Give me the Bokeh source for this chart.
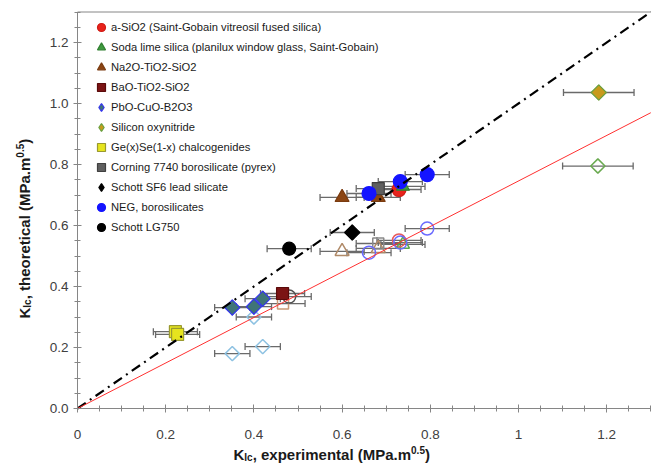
import math
from bokeh.plotting import figure
from bokeh.models import (Range1d, FixedTicker, CustomJSTickFormatter, PrintfTickFormatter,
                          Whisker, TeeHead, ColumnDataSource, Label, Legend, LegendItem)
from bokeh.embed import file_html
from bokeh.resources import INLINE

# ---------------- data ----------------
x_ticks = [0.0, 0.2, 0.4, 0.6, 0.8, 1.0, 1.2]
y_ticks = [0.0, 0.2, 0.4, 0.6, 0.8, 1.0, 1.2]
axis_max = 1.3
ref_line_x = [0.0, 1.3]          # 1:1 line
fit_slope = 0.746                # red fit line slope

# filled markers (experimental vs theoretical)
asio2_x = [0.729]; asio2_y = [0.718]; asio2_err = [0.05]
soda_x = [0.738]; soda_y = [0.728]; soda_err = [0.05]
na2o_x = [0.600, 0.682]; na2o_y = [0.692, 0.692]; na2o_err = [0.05, 0.05]
bao_x = [0.465]; bao_y = [0.377]; bao_err = [0.05]
pbo_x = [0.351, 0.400, 0.420]; pbo_y = [0.331, 0.334, 0.360]; pbo_err = [0.04, 0.04, 0.04]
sion_x = [1.182]; sion_y = [1.036]; sion_err = [0.08]
gese_x = [0.222, 0.227]; gese_y = [0.252, 0.243]; gese_err = [0.05, 0.05]
corning_x = [0.682]; corning_y = [0.721]; corning_err = [0.05]
sf6_x = [0.623]; sf6_y = [0.577]; sf6_err = [0.05]
neg_x = [0.661, 0.732, 0.793]; neg_y = [0.705, 0.744, 0.767]; neg_err = [0.05, 0.05, 0.05]
lg750_x = [0.480]; lg750_y = [0.524]; lg750_err = [0.05]

# hollow markers (second model)
asio2_hx = [0.729]; asio2_hy = [0.551]; asio2_herr = [0.05]
soda_hx = [0.738]; soda_hy = [0.538]; soda_herr = [0.05]
na2o_hx = [0.600, 0.682]; na2o_hy = [0.515, 0.525]; na2o_herr = [0.05, 0.05]
bao_hx = [0.466]; bao_hy = [0.344]; bao_herr = [0.05]
pbo_hx = [0.351, 0.400, 0.420]; pbo_hy = [0.180, 0.300, 0.203]; pbo_herr = [0.04, 0.04, 0.04]
sion_hx = [1.180]; sion_hy = [0.795]; sion_herr = [0.08]
corning_hx = [0.682]; corning_hy = [0.541]; corning_herr = [0.05]
neg_hx = [0.661, 0.732, 0.793]; neg_hy = [0.511, 0.544, 0.590]; neg_herr = [0.05, 0.05, 0.05]
lg750_hx = [0.480]; lg750_hy = [0.367]; lg750_herr = [0.05]

labels = ["a-SiO2 (Saint-Gobain vitreosil fused silica)",
          "Soda lime silica (planilux window glass, Saint-Gobain)",
          "Na2O-TiO2-SiO2", "BaO-TiO2-SiO2", "PbO-CuO-B2O3", "Silicon oxynitride",
          "Ge(x)Se(1-x) chalcogenides", "Corning 7740 borosilicate (pyrex)",
          "Schott SF6 lead silicate", "NEG, borosilicates", "Schott LG750"]

FONT = "Liberation Sans"
GRAY = "#868686"

W, H = 651, 463
ORIG_X, ORIG_Y = 77, 408          # pixel position of (0, 0)
PX_X, PX_Y = 441.0, 305.0         # pixels per unit

p = figure(width=W, height=H,
           x_range=Range1d(-ORIG_X / PX_X, (W - ORIG_X) / PX_X),
           y_range=Range1d(-(H - ORIG_Y) / PX_Y, ORIG_Y / PX_Y),
           output_backend="svg", toolbar_location=None,
           min_border_left=0, min_border_right=0, min_border_top=0, min_border_bottom=0)
p.grid.visible = False
p.outline_line_color = None
p.background_fill_color = "white"
p.border_fill_color = "white"

for ax in (p.xaxis[0], p.yaxis[0]):
    ax.fixed_location = 0
    ax.bounds = (0, axis_max)
    ax.axis_line_color = GRAY
    ax.major_tick_line_color = GRAY
    ax.minor_tick_line_color = GRAY
    ax.major_tick_in = 4
    ax.major_tick_out = 4
    ax.minor_tick_in = 3
    ax.minor_tick_out = 3
    ax.major_label_text_font = FONT
    ax.major_label_text_font_size = "13.5px"
    ax.major_label_text_color = "#404040"

minor = [i * 0.05 for i in range(27)]
p.xaxis.ticker = FixedTicker(ticks=x_ticks, minor_ticks=minor)
p.yaxis.ticker = FixedTicker(ticks=y_ticks, minor_ticks=minor)
p.xaxis.formatter = CustomJSTickFormatter(code="return tick.toFixed(1).replace(/\\.0$/, '');")
p.yaxis.formatter = PrintfTickFormatter(format="%.1f")
p.xaxis.major_label_standoff = 17
p.yaxis.major_label_standoff = 5

# top border of the plot area
p.segment(x0=[0], y0=[axis_max], x1=[axis_max], y1=[axis_max], line_color=GRAY, line_width=1)


def errbars(xs, ys, errs):
    src = ColumnDataSource(dict(y=ys, lo=[a - e for a, e in zip(xs, errs)],
                                hi=[a + e for a, e in zip(xs, errs)]))
    w = Whisker(source=src, base="y", lower="lo", upper="hi", dimension="width",
                line_color="#6a6a6a", line_width=1.3,
                upper_head=TeeHead(size=7, line_color="#6a6a6a", line_width=1.3),
                lower_head=TeeHead(size=7, line_color="#6a6a6a", line_width=1.3))
    p.add_layout(w)


def marker_kw(mk, sz):
    # Excel-like diamond = square turned by 45 degrees
    if mk == "diamond":
        return dict(marker="square", size=sz * 0.72, angle=math.pi / 4)
    return dict(marker=mk, size=sz)


hollow = [
    (asio2_hx, asio2_hy, asio2_herr, "circle", 13, "#e85a5a"),
    (soda_hx, soda_hy, soda_herr, "triangle", 13, "#5aa84a"),
    (na2o_hx, na2o_hy, na2o_herr, "triangle", 14, "#b08a68"),
    (bao_hx, bao_hy, bao_herr, "square", 11, "#c99a78"),
    (pbo_hx, pbo_hy, pbo_herr, "diamond", 14, "#8ec2e2"),
    (sion_hx, sion_hy, sion_herr, "diamond", 14, "#6aaa50"),
    (corning_hx, corning_hy, corning_herr, "square", 11, "#8a8a8a"),
    (neg_hx, neg_hy, neg_herr, "circle", 13, "#6a6aff"),
    (lg750_hx, lg750_hy, lg750_herr, "circle", 13, "#505050"),
]
for xs, ys, errs, mk, sz, col in hollow:
    errbars(xs, ys, errs)
    p.scatter(xs, ys, fill_color=None, line_color=col, line_width=1.5, **marker_kw(mk, sz))

filled = [
    (asio2_x, asio2_y, asio2_err, "circle", 14, "#e8231c", "#d01c16"),
    (soda_x, soda_y, soda_err, "triangle", 13, "#3f9a3f", "#2f7f2f"),
    (na2o_x, na2o_y, na2o_err, "triangle", 14, "#8b4513", "#7a3b10"),
    (bao_x, bao_y, bao_err, "square", 12, "#7b1414", "#5a0a0a"),
    (pbo_x, pbo_y, pbo_err, "diamond", 15, "#3f7478", "#3535ee"),
    (sion_x, sion_y, sion_err, "diamond", 15, "#c89a1c", "#6aa040"),
    (gese_x, gese_y, gese_err, "square", 12, "#e6e41e", "#9a9a30"),
    (corning_x, corning_y, corning_err, "square", 12, "#5f5f5f", "#404040"),
    (sf6_x, sf6_y, sf6_err, "diamond", 15, "#000000", "#000000"),
    (neg_x, neg_y, neg_err, "circle", 14, "#1414ff", "#1414ff"),
    (lg750_x, lg750_y, lg750_err, "circle", 13, "#000000", "#000000"),
]
legend_renderers = []
for xs, ys, errs, mk, sz, fc, lc in filled:
    errbars(xs, ys, errs)
    if mk == "diamond":
        # narrow diamond used as legend swatch (legend glyphs ignore angle); it is fully
        # covered in the plot by the turned square drawn on top of it
        leg = p.scatter(xs, ys, marker="diamond", size=sz, fill_color=fc, line_color=lc,
                        line_width=1.2)
        p.scatter(xs, ys, fill_color=fc, line_color=lc, line_width=1.2, **marker_kw(mk, sz))
    else:
        leg = p.scatter(xs, ys, fill_color=fc, line_color=lc, line_width=1.2, **marker_kw(mk, sz))
    legend_renderers.append(leg)

# reference lines
p.line(ref_line_x, ref_line_x, line_color="black", line_width=2.2, line_dash="10 5 2 5")
p.line(ref_line_x, [fit_slope * v for v in ref_line_x], line_color="#ff3030", line_width=1)

legend = Legend(items=[LegendItem(label=l, renderers=[r]) for l, r in zip(labels, legend_renderers)],
                location=(91, H - 237), glyph_width=20, glyph_height=20, label_height=20,
                spacing=0, padding=0, margin=0, label_standoff=0,
                border_line_color=None, background_fill_alpha=0,
                label_text_font=FONT, label_text_font_size="11.2px", label_text_color="#1a1a1a")
p.add_layout(legend)

# ---- axis titles built from text segments (K_Ic ... m^0.5) ----
BIG, SMALL = 15, 10
w_K = 0.722 * BIG
w_Ic = (0.278 + 0.556) * SMALL
w_sup = (0.556 + 0.278 + 0.556) * SMALL


def seg_width(s):
    widths = {",": .278, " ": .278, "e": .556, "x": .556, "p": .611, "r": .389, "i": .278,
              "m": .889, "n": .611, "t": .333, "a": .556, "l": .278, "h": .611, "o": .611,
              "c": .556, "(": .333, ")": .333, "M": .833, "P": .667, ".": .278}
    return sum(widths[c] for c in s) * BIG


def title(mid_text, start, base, vertical):
    parts = [("K", BIG, 0), ("Ic", SMALL, 3), (mid_text, BIG, 0), ("0.5", SMALL, -5), (")", BIG, 0)]
    pos = start
    for txt, fs, shift in parts:
        if vertical:
            lab = Label(x=base + shift, y=pos, x_units="screen", y_units="screen", text=txt,
                        angle=math.pi / 2, text_align="left", text_baseline="alphabetic")
        else:
            lab = Label(x=pos, y=base - shift, x_units="screen", y_units="screen", text=txt,
                        text_align="left", text_baseline="alphabetic")
        lab.text_font = FONT
        lab.text_font_size = f"{fs}px"
        lab.text_font_style = "bold"
        lab.text_color = "#1a1a1a"
        p.add_layout(lab)
        if txt == "K":
            pos += w_K
        elif txt == "Ic":
            pos += w_Ic
        elif txt == "0.5":
            pos += w_sup
        else:
            pos += seg_width(txt)


# screen units are measured from the bottom-left corner of the (full-canvas) frame
title(", experimental (MPa.m", 233, H - 454, False)
title(", theoretical (MPa.m", H - 318, 24, True)

open("out.html", "w").write(file_html(p, INLINE))
